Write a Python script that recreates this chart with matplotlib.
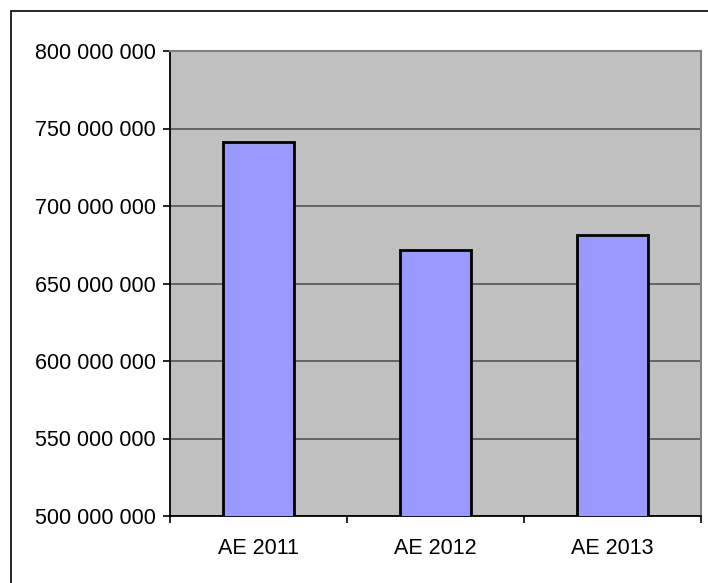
import numpy as np
import matplotlib
matplotlib.use("Agg")
import matplotlib.pyplot as plt
from matplotlib.ticker import FuncFormatter, FixedLocator, NullFormatter
from matplotlib.patches import Rectangle

plt.rcParams["font.family"] = ["Liberation Sans", "DejaVu Sans"]

# ---------- data ----------
categories = ["AE 2011", "AE 2012", "AE 2013"]
values = [741_000_000, 671_300_000, 681_600_000]
y_ticks = [500_000_000, 550_000_000, 600_000_000, 650_000_000,
           700_000_000, 750_000_000, 800_000_000]

W, H = 708, 583
fig = plt.figure(figsize=(W / 100, H / 100), dpi=100)
fig.patch.set_facecolor("white")

# outer chart frame (right/bottom run off the picture)
fig.patches.append(Rectangle((11 / W, -0.05), 1.1, 1 - 11 / H + 0.05,
                             transform=fig.transFigure, fill=False,
                             ec="black", lw=1.2, zorder=0))

ax = fig.add_axes([170 / W, (H - 516) / H, (701 - 170) / W, (516 - 51) / H])
ax.set_facecolor("#C0C0C0")

x = np.arange(len(categories))
ax.bar(x, values, width=0.405, color="#9999FF", edgecolor="black",
       linewidth=2.0, zorder=3)

ax.set_xlim(-0.5, len(categories) - 0.5)
ax.set_ylim(y_ticks[0], y_ticks[-1])
ax.set_yticks(y_ticks)
ax.yaxis.set_major_formatter(FuncFormatter(lambda v, p: f"{int(v):,}".replace(",", " ")))
ax.grid(axis="y", color="#555555", lw=1.2, zorder=1)

# category boundaries get the ticks, labels sit in the middle
ax.xaxis.set_major_locator(FixedLocator(np.arange(len(categories) + 1) - 0.5))
ax.xaxis.set_major_formatter(NullFormatter())
ax.xaxis.set_minor_locator(FixedLocator(x))
ax.set_xticklabels(categories, minor=True)
ax.tick_params(axis="x", which="major", length=5, width=1.2, direction="out")
ax.tick_params(axis="x", which="minor", length=0, pad=16, labelsize=15.5)
ax.tick_params(axis="y", length=5, width=1.2, direction="out", pad=5, labelsize=15.5)

for s in ("left", "bottom"):
    ax.spines[s].set_color("black")
    ax.spines[s].set_linewidth(1.3)
for s in ("top", "right"):
    ax.spines[s].set_color("#808080")
    ax.spines[s].set_linewidth(1.5)

fig.savefig("out.png", dpi=100)
